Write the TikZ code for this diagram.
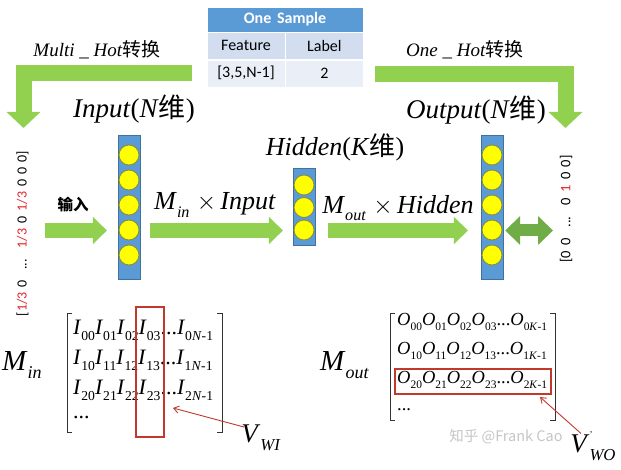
\documentclass[tikz,border=0pt]{standalone}
\usepackage{fontspec}
\setmainfont{Liberation Serif}
\newfontfamily\calibri{Carlito}[WordSpace=1.6]
\newfontfamily\cjk{Noto Sans CJK SC}
\usetikzlibrary{arrows.meta,positioning,calc}
\definecolor{nngreen}{HTML}{92D050}
\definecolor{nndark}{HTML}{70AD47}
\definecolor{nnblue}{HTML}{5B9BD5}
\definecolor{nnline}{HTML}{41719C}
\definecolor{nnyellow}{HTML}{FFFF00}
\definecolor{nnolive}{HTML}{8A8A3A}
\definecolor{nnhead}{HTML}{5B9BD5}
\definecolor{nnrowa}{HTML}{D2DEEF}
\definecolor{nnrowb}{HTML}{EAEFF7}
\definecolor{nnred}{HTML}{C0392B}
\definecolor{vred}{HTML}{E0282D}
\newcommand\lsub[1]{\raisebox{-0.28em}{\scalebox{0.62}{#1}}}
\newcommand\ent[2]{\textit{#1}\lsub{#2}}
\tikzset{
  bigarr/.style={line width=15pt, color=nngreen, -{Triangle[length=14pt,width=27pt]}},
  bendarr/.style={line width=16pt, color=nngreen, line join=miter, -{Triangle[length=16pt,width=33pt]}},
  duoarr/.style={line width=12pt, color=nndark, {Triangle[length=15pt,width=28pt]}-{Triangle[length=15pt,width=28pt]}},
  layer/.style={draw=nnline, fill=nnblue, minimum width=22pt, inner sep=0pt},
  unit/.style={circle, draw=nnolive, fill=nnyellow, minimum size=20pt, inner sep=0pt, line width=0.8pt},
  thd/.style={fill=nnhead, draw=white, text=white, font=\calibri\bfseries\fontsize{16}{18}\selectfont, minimum width=156pt, minimum height=25pt, inner sep=0pt},
  tcell/.style={draw=white, font=\calibri\fontsize{16}{18}\selectfont, minimum width=78pt, minimum height=27pt, inner sep=0pt},
  ttl/.style={font=\fontsize{27}{30}\selectfont, inner sep=0pt},
  conv/.style={font=\fontsize{19}{22}\selectfont, inner sep=0pt},
  mul/.style={font=\fontsize{26}{30}\selectfont, inner sep=0pt},
  vec/.style={font=\calibri\fontsize{14}{16}\selectfont, inner sep=0pt, rotate=90},
  mrow/.style={font=\fontsize{22}{24}\selectfont, inner sep=0pt, anchor=west},
  mname/.style={font=\fontsize{29}{34}\selectfont, inner sep=0pt},
  brk/.style={draw=black!80, line width=0.9pt},
  redbox/.style={draw=nnred, line width=1.1pt},
  redarr/.style={draw=nnred, line width=0.9pt, -{Straight Barb[length=5pt,width=7pt]}},
  wm/.style={font=\cjk\fontsize{14.5}{17}\selectfont, text=gray!45, inner sep=0pt},
}
\begin{document}
\begin{tikzpicture}[x=1pt,y=-1pt]
  \fill[white] (0,0) rectangle (621,470);
  \useasboundingbox (0,0) rectangle (621,470);
  % sample table
  \node[thd] (hdr) at (285,19.5) {One Sample};
  \node[tcell, fill=nnrowa, below right=0pt of hdr.south west] (feat) {Feature};
  \node[tcell, fill=nnrowa, right=0pt of feat] (lab) {Label};
  \node[tcell, fill=nnrowb, below=0pt of feat] (fval) {[3,5,N-1]};
  \node[tcell, fill=nnrowb, right=0pt of fval] (lval) {2};
  % bent conversion arrows
  \coordinate (mhstart) at (192,73.5);
  \coordinate (mhcorner) at (23.5,73.5);
  \coordinate (mhend) at (23.5,128);
  \draw[bendarr] (mhstart) -- (mhcorner) -- (mhend);
  \coordinate (ohstart) at (375,74);
  \coordinate (ohcorner) at (565.5,74);
  \coordinate (ohend) at (565.5,128);
  \draw[bendarr] (ohstart) -- (ohcorner) -- (ohend);
  \node[conv] (mhot) at (97,50) {\textit{Multi \_ Hot}{\cjk 转换}};
  \node[conv] (ohot) at (465,50) {\textit{One \_ Hot}{\cjk 转换}};
  % layers
  \node[layer, minimum height=144pt] (inp) at (129,207) {};
  \node[layer, minimum height=77pt] (hid) at (304,206.5) {};
  \node[layer, minimum height=144pt] (out) at (492,207) {};
  \foreach \k in {0,...,4} {
    \node[unit] (in\k) at (129,155+\k*25) {};
    \node[unit] (out\k) at (492,155+\k*25) {};
  }
  \foreach \k in {0,...,2} \node[unit] (hid\k) at (304,185+\k*22.5) {};
  \node[ttl] (inlbl) at (134,109) {\textit{Input}(\textit{N}{\cjk 维})};
  \node[ttl, font=\fontsize{26}{30}\selectfont] (hidlbl) at (335,147) {\textit{Hidden}(\textit{K}{\cjk 维})};
  \node[ttl] (outlbl) at (476,110) {\textit{Output}(\textit{N}{\cjk 维})};
  % vectors
  \node[vec] (vecin) at (22.5,233.5) {[{\color{vred}1/3} 0 \ ... \ {\color{vred}1/3} 0 {\color{vred}1/3} 0 0 0]};
  \node[vec, font=\calibri\fontsize{14.5}{16}\selectfont] (vecout) at (566,209) {[0 0 \ ... \ 0 {\color{vred}1} 0 0]};
  % flow arrows
  \coordinate (lane) at (0,230.5);
  \coordinate (instart) at (45,230.5);
  \draw[bigarr, shorten >=11pt] (instart) -- (instart -| inp.west);
  \node[font=\cjk\bfseries\fontsize{15.5}{17}\selectfont, inner sep=0pt] (inword) at (73,205) {输入};
  \draw[bigarr, shorten <=10pt, shorten >=10pt] (inp.east |- lane) -- (hid.west |- lane);
  \draw[bigarr, shorten <=13pt, shorten >=13pt] (hid.east |- lane) -- (out.west |- lane);
  \coordinate (duoend) at (553,230.5);
  \draw[duoarr, shorten <=2pt] (out.east |- lane) -- (duoend);
  \node[mul] (mul1) at (215,205) {\textit{M}\lsub{\textit{in}}\;$\times$\,\textit{Input}};
  \node[mul] (mul2) at (398,208) {\textit{M}\lsub{\textit{out}}\;$\times$\,\textit{Hidden}};
  % input matrix
  \node[mname, anchor=west] (min) at (2,365) {\textit{M}\lsub{\textit{in}}};
  \foreach \r in {0,1,2}
    \node[mrow] (mi\r) at (73,330+\r*30) {\ent{I}{\r0}\ent{I}{\r1}\ent{I}{\r2}\ent{I}{\r3}...\ent{I}{\r\textit{N}-1}};
  \node[mrow] (mi3) at (73,418) {...};
  \draw[brk] (72,313) -- (67,313) -- (67,432) -- (72,432);
  \draw[brk] (217,313) -- (222,313) -- (222,432) -- (217,432);
  \node[redbox, minimum width=28pt, minimum height=130pt, inner sep=0pt] (wicol) at (150,372) {};
  \node[mname, font=\fontsize{27}{32}\selectfont] (vwi) at (261,438) {\textit{V}\lsub{\textit{WI}}};
  \coordinate (witip) at (173,408);
  \draw[redarr] ($(vwi.north west)+(3,2)$) -- (witip);
  % output matrix
  \node[mname, anchor=west] (mout) at (320,365) {\textit{M}\lsub{\textit{out}}};
  \foreach \r in {0,1,2}
    \node[mrow, font=\fontsize{18.5}{22}\selectfont] (mo\r) at (397,322+\r*29) {\ent{O}{\r0}\ent{O}{\r1}\ent{O}{\r2}\ent{O}{\r3}...\ent{O}{\r\textit{K}-1}};
  \node[mrow, font=\fontsize{18.5}{22}\selectfont] (mo3) at (397,410) {...};
  \draw[brk] (395,313) -- (390,313) -- (390,420) -- (395,420);
  \draw[brk] (550,313) -- (555,313) -- (555,420) -- (550,420);
  \node[redbox, minimum width=156pt, minimum height=25pt, inner sep=0pt] (worow) at (473,381.5) {};
  \node[wm] (mark) at (506,437) {知乎 @Frank Cao};
  \node[mname, font=\fontsize{27}{32}\selectfont] (vwo) at (593,446) {\textit{V}\makebox[0pt][l]{\raisebox{0.55em}{\small '}}\lsub{\textit{WO}}};
  \coordinate (wotip) at (540,397);
  \draw[redarr] ($(vwo.north)+(-12,2)$) -- (wotip);
\end{tikzpicture}
\end{document}
